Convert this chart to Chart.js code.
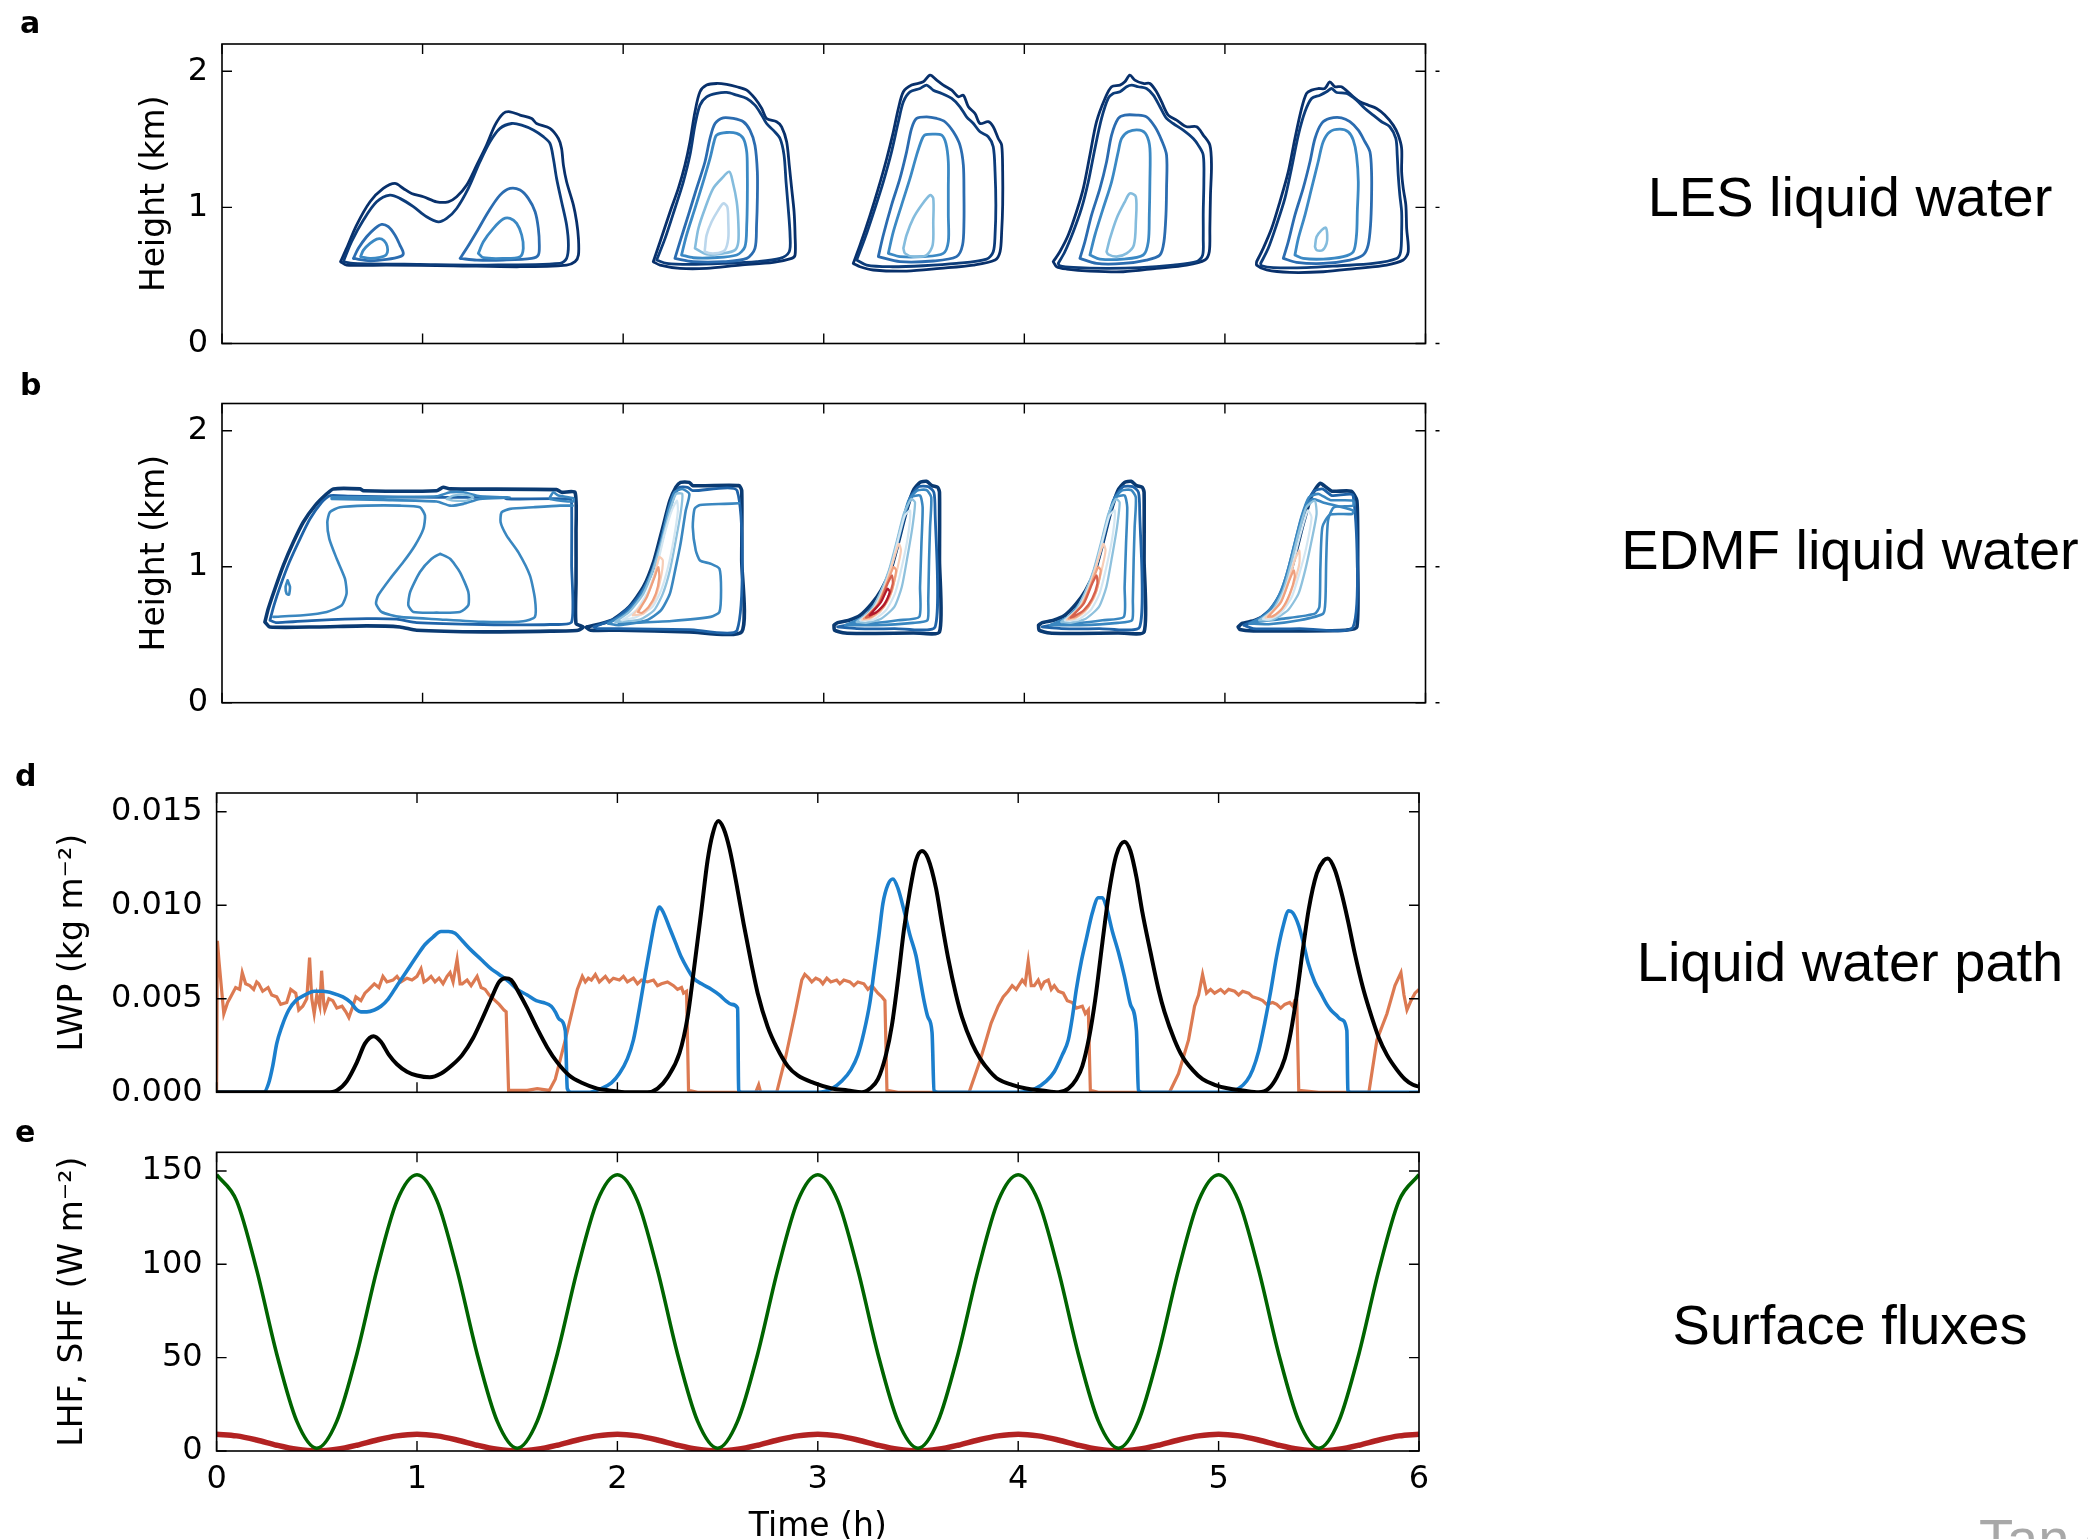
<!DOCTYPE html>
<html><head><meta charset="utf-8">
<script src="https://cdn.jsdelivr.net/npm/chart.js@4.4.1/dist/chart.umd.min.js"></script>
<style>
html,body{margin:0;padding:0;background:#fff;}
body{width:2088px;height:1539px;position:relative;overflow:hidden;}
canvas{position:absolute;left:0;}
.lab{position:absolute;font-family:'DejaVu Sans';font-weight:bold;font-size:30px;line-height:1;color:#000;}
.side{position:absolute;left:1850px;font-family:'Liberation Sans',Arial,sans-serif;font-size:56px;line-height:1;white-space:nowrap;transform:translateX(-50%);color:#000;}
</style></head><body>
<canvas id="cA" width="1450" height="392" style="top:0px"></canvas>
<canvas id="cB" width="1450" height="381" style="top:370px"></canvas>
<canvas id="cD" width="1450" height="400" style="top:740px"></canvas>
<canvas id="cE" width="1450" height="429" style="top:1110px"></canvas>
<div class="lab" style="left:20px;top:8px">a</div>
<div class="lab" style="left:20px;top:370px">b</div>
<div class="lab" style="left:15px;top:761px">d</div>
<div class="lab" style="left:15px;top:1117px">e</div>
<div class="side" style="top:169px">LES liquid water</div>
<div class="side" style="top:522px">EDMF liquid water</div>
<div class="side" style="top:934px">Liquid water path</div>
<div class="side" style="top:1297px">Surface fluxes</div>
<div class="side" style="top:1511px;left:1979px;transform:none;color:#a8a8a8">Tan et al.</div>
<script>
// ---------- ticks ----------
const xTicks = [0,1,2,3,4,5,6];
const xTickLabels = ['0','1','2','3','4','5','6'];
const heightTicks = [0,1,2];
const heightTickLabels = ['0','1','2'];
const lwpTicks = [0,0.005,0.010,0.015];
const lwpTickLabels = ['0.000','0.005','0.010','0.015'];
const fluxTicks = [0,50,100,150];
const fluxTickLabels = ['0','50','100','150'];

// ---------- panel a: LES liquid water contours [time h, height km] ----------
const lesA1 = [[0.591,0.601],[0.621,0.699],[0.671,0.870],[0.738,1.041],[0.804,1.139],[0.862,1.176],[0.904,1.139],[0.945,1.102],[1.004,1.078],[1.070,1.041],[1.128,1.041],[1.170,1.078],[1.220,1.164],[1.270,1.310],[1.319,1.457],[1.361,1.604],[1.402,1.690],[1.436,1.702],[1.486,1.678],[1.544,1.653],[1.568,1.616],[1.635,1.580],[1.677,1.506],[1.693,1.433],[1.702,1.310],[1.718,1.188],[1.752,1.017],[1.768,0.894],[1.777,0.772],[1.777,0.650],[1.760,0.601],[1.718,0.576],[1.486,0.564],[1.153,0.571],[0.821,0.576],[0.621,0.576]];
const lesA2 = [[0.605,0.601],[0.646,0.748],[0.705,0.907],[0.771,1.041],[0.837,1.090],[0.887,1.066],[0.954,1.005],[1.020,0.931],[1.078,0.894],[1.120,0.919],[1.170,0.992],[1.228,1.139],[1.286,1.335],[1.336,1.482],[1.386,1.580],[1.444,1.616],[1.494,1.604],[1.552,1.568],[1.602,1.519],[1.635,1.470],[1.652,1.359],[1.668,1.213],[1.693,1.041],[1.718,0.870],[1.727,0.723],[1.718,0.625],[1.685,0.589],[1.319,0.576],[0.987,0.581],[0.655,0.589]];
const lesA3 = [[0.655,0.625],[0.680,0.699],[0.721,0.784],[0.763,0.846],[0.796,0.875],[0.829,0.858],[0.862,0.797],[0.887,0.723],[0.904,0.662],[0.887,0.638],[0.821,0.618],[0.738,0.608]];
const lesA4 = [[0.691,0.638],[0.705,0.686],[0.738,0.735],[0.771,0.767],[0.796,0.767],[0.818,0.735],[0.826,0.686],[0.818,0.650],[0.788,0.633],[0.738,0.625]];
const lesA5 = [[1.187,0.625],[1.220,0.699],[1.270,0.821],[1.328,0.968],[1.386,1.090],[1.436,1.139],[1.486,1.127],[1.527,1.066],[1.561,0.968],[1.577,0.846],[1.582,0.723],[1.577,0.650],[1.544,0.625],[1.402,0.613],[1.270,0.613]];
const lesA6 = [[1.278,0.662],[1.303,0.748],[1.353,0.846],[1.402,0.914],[1.436,0.919],[1.469,0.882],[1.494,0.797],[1.502,0.699],[1.486,0.638],[1.402,0.625],[1.303,0.630]];
const lesB1 = [[2.150,0.601],[2.184,0.747],[2.234,0.968],[2.275,1.139],[2.308,1.310],[2.333,1.482],[2.358,1.702],[2.383,1.849],[2.416,1.898],[2.466,1.910],[2.516,1.903],[2.566,1.886],[2.616,1.861],[2.657,1.800],[2.691,1.726],[2.715,1.653],[2.765,1.629],[2.790,1.592],[2.815,1.482],[2.828,1.310],[2.840,1.139],[2.852,0.968],[2.857,0.796],[2.857,0.650],[2.840,0.625],[2.749,0.596],[2.582,0.576],[2.416,0.552],[2.283,0.552],[2.184,0.576]];
const lesB2 = [[2.167,0.613],[2.209,0.772],[2.258,0.992],[2.300,1.188],[2.333,1.384],[2.358,1.604],[2.383,1.751],[2.416,1.812],[2.466,1.837],[2.516,1.844],[2.566,1.824],[2.616,1.800],[2.657,1.751],[2.691,1.677],[2.715,1.616],[2.748,1.567],[2.782,1.506],[2.802,1.384],[2.812,1.188],[2.823,0.992],[2.832,0.796],[2.828,0.674],[2.782,0.625],[2.666,0.601],[2.499,0.588],[2.333,0.581],[2.217,0.588]];
const lesB3 = [[2.258,0.625],[2.283,0.747],[2.325,0.943],[2.366,1.139],[2.408,1.335],[2.433,1.506],[2.458,1.616],[2.499,1.658],[2.549,1.653],[2.599,1.629],[2.632,1.567],[2.657,1.457],[2.669,1.261],[2.669,1.066],[2.665,0.870],[2.657,0.699],[2.616,0.625],[2.499,0.601],[2.350,0.601]];
const lesB4 = [[2.291,0.650],[2.316,0.796],[2.358,0.992],[2.399,1.188],[2.433,1.359],[2.453,1.482],[2.466,1.531],[2.516,1.550],[2.566,1.543],[2.599,1.506],[2.616,1.408],[2.619,1.261],[2.619,1.066],[2.616,0.870],[2.607,0.711],[2.566,0.650],[2.449,0.630],[2.350,0.630]];
const lesB5 = [[2.358,0.699],[2.375,0.845],[2.408,0.992],[2.449,1.139],[2.491,1.212],[2.529,1.261],[2.546,1.188],[2.566,1.041],[2.574,0.894],[2.574,0.747],[2.557,0.686],[2.499,0.662],[2.416,0.655]];
const lesB6 = [[2.408,0.699],[2.416,0.796],[2.441,0.894],[2.474,0.980],[2.499,1.029],[2.519,1.004],[2.524,0.894],[2.524,0.772],[2.507,0.686],[2.458,0.662],[2.408,0.674]];
const lesC1 = [[3.147,0.588],[3.181,0.723],[3.231,0.943],[3.272,1.139],[3.314,1.359],[3.347,1.555],[3.372,1.726],[3.397,1.849],[3.438,1.898],[3.496,1.922],[3.530,1.971],[3.563,1.935],[3.596,1.898],[3.638,1.861],[3.671,1.812],[3.696,1.824],[3.721,1.739],[3.754,1.690],[3.779,1.616],[3.820,1.629],[3.845,1.592],[3.870,1.506],[3.887,1.457],[3.892,1.262],[3.892,1.017],[3.887,0.821],[3.879,0.674],[3.854,0.613],[3.746,0.576],[3.580,0.552],[3.413,0.532],[3.247,0.540],[3.181,0.564]];
const lesC2 = [[3.164,0.613],[3.205,0.772],[3.255,0.992],[3.297,1.188],[3.338,1.408],[3.372,1.629],[3.397,1.776],[3.430,1.849],[3.480,1.873],[3.513,1.898],[3.546,1.861],[3.588,1.837],[3.638,1.800],[3.679,1.739],[3.712,1.665],[3.746,1.616],[3.779,1.555],[3.820,1.519],[3.845,1.445],[3.854,1.262],[3.858,1.017],[3.854,0.797],[3.845,0.674],[3.812,0.620],[3.662,0.588],[3.496,0.571],[3.330,0.564],[3.214,0.576]];
const lesC3 = [[3.272,0.638],[3.297,0.797],[3.338,1.017],[3.380,1.213],[3.413,1.408],[3.438,1.580],[3.463,1.653],[3.513,1.665],[3.563,1.653],[3.604,1.629],[3.646,1.555],[3.679,1.457],[3.696,1.310],[3.699,1.090],[3.699,0.894],[3.692,0.723],[3.662,0.638],[3.546,0.606],[3.380,0.601]];
const lesC4 = [[3.322,0.662],[3.347,0.821],[3.388,1.017],[3.430,1.213],[3.463,1.384],[3.488,1.494],[3.504,1.531],[3.546,1.538],[3.588,1.531],[3.609,1.470],[3.621,1.335],[3.621,1.139],[3.621,0.943],[3.621,0.748],[3.596,0.662],[3.496,0.638],[3.380,0.638]];
const lesC5 = [[3.397,0.699],[3.413,0.797],[3.446,0.919],[3.488,1.017],[3.530,1.090],[3.546,1.066],[3.546,0.894],[3.543,0.723],[3.513,0.650],[3.446,0.638],[3.405,0.662]];
const lesD1 = [[4.144,0.601],[4.177,0.674],[4.219,0.797],[4.260,0.968],[4.294,1.139],[4.327,1.384],[4.360,1.629],[4.402,1.800],[4.435,1.886],[4.477,1.898],[4.501,1.922],[4.526,1.971],[4.551,1.935],[4.593,1.910],[4.626,1.910],[4.659,1.849],[4.684,1.776],[4.717,1.678],[4.759,1.641],[4.809,1.592],[4.859,1.592],[4.892,1.531],[4.925,1.457],[4.933,1.310],[4.928,1.090],[4.925,0.846],[4.922,0.674],[4.900,0.613],[4.809,0.576],[4.659,0.552],[4.493,0.527],[4.327,0.532],[4.211,0.547],[4.161,0.564]];
const lesD2 = [[4.169,0.588],[4.202,0.674],[4.244,0.821],[4.285,0.992],[4.319,1.188],[4.352,1.433],[4.385,1.653],[4.418,1.800],[4.443,1.837],[4.477,1.849],[4.510,1.886],[4.535,1.898],[4.568,1.886],[4.609,1.873],[4.643,1.824],[4.676,1.739],[4.709,1.653],[4.742,1.616],[4.792,1.567],[4.842,1.506],[4.867,1.457],[4.892,1.384],[4.895,1.188],[4.892,0.968],[4.892,0.772],[4.889,0.650],[4.859,0.601],[4.742,0.576],[4.576,0.557],[4.410,0.552],[4.244,0.559],[4.177,0.571]];
const lesD3 = [[4.277,0.625],[4.302,0.748],[4.335,0.943],[4.377,1.139],[4.410,1.335],[4.435,1.531],[4.468,1.653],[4.501,1.678],[4.560,1.678],[4.609,1.665],[4.651,1.592],[4.684,1.494],[4.709,1.384],[4.709,1.139],[4.706,0.943],[4.696,0.748],[4.676,0.650],[4.609,0.613],[4.493,0.588],[4.360,0.588]];
const lesD4 = [[4.327,0.650],[4.352,0.797],[4.393,0.992],[4.435,1.188],[4.468,1.408],[4.485,1.506],[4.518,1.555],[4.576,1.567],[4.609,1.531],[4.626,1.433],[4.626,1.188],[4.623,0.943],[4.618,0.748],[4.593,0.650],[4.493,0.620],[4.377,0.620]];
const lesD5 = [[4.410,0.674],[4.427,0.772],[4.460,0.919],[4.501,1.041],[4.526,1.102],[4.556,1.078],[4.556,0.894],[4.546,0.723],[4.510,0.662],[4.460,0.638],[4.418,0.655]];
const lesE1 = [[5.158,0.601],[5.191,0.699],[5.233,0.846],[5.274,1.041],[5.316,1.262],[5.349,1.506],[5.382,1.726],[5.407,1.837],[5.432,1.861],[5.465,1.873],[5.498,1.873],[5.523,1.922],[5.548,1.886],[5.581,1.886],[5.631,1.824],[5.673,1.776],[5.714,1.751],[5.756,1.726],[5.797,1.678],[5.839,1.604],[5.864,1.531],[5.881,1.433],[5.881,1.262],[5.889,1.139],[5.902,1.017],[5.906,0.846],[5.914,0.674],[5.889,0.613],[5.806,0.576],[5.656,0.552],[5.490,0.527],[5.324,0.522],[5.208,0.540],[5.158,0.576]];
const lesE2 = [[5.178,0.588],[5.216,0.699],[5.257,0.870],[5.299,1.066],[5.332,1.286],[5.366,1.531],[5.399,1.702],[5.432,1.800],[5.474,1.824],[5.507,1.849],[5.532,1.873],[5.557,1.844],[5.607,1.837],[5.656,1.788],[5.698,1.726],[5.739,1.678],[5.781,1.629],[5.822,1.592],[5.852,1.506],[5.859,1.384],[5.864,1.237],[5.872,1.090],[5.881,0.968],[5.881,0.821],[5.876,0.674],[5.856,0.625],[5.739,0.588],[5.573,0.571],[5.407,0.557],[5.241,0.557],[5.183,0.571]];
const lesE3 = [[5.291,0.625],[5.316,0.748],[5.349,0.943],[5.390,1.139],[5.424,1.335],[5.449,1.506],[5.482,1.616],[5.523,1.653],[5.581,1.658],[5.623,1.629],[5.665,1.567],[5.698,1.482],[5.723,1.408],[5.731,1.262],[5.731,1.066],[5.726,0.870],[5.714,0.723],[5.689,0.650],[5.623,0.613],[5.490,0.588],[5.357,0.596]];
const lesE4 = [[5.349,0.650],[5.366,0.772],[5.399,0.943],[5.432,1.139],[5.465,1.335],[5.490,1.482],[5.523,1.555],[5.573,1.575],[5.615,1.555],[5.640,1.494],[5.656,1.384],[5.665,1.188],[5.660,0.968],[5.656,0.797],[5.640,0.674],[5.590,0.638],[5.490,0.620],[5.390,0.625]];
const lesE5 = [[5.449,0.711],[5.457,0.784],[5.482,0.833],[5.503,0.850],[5.510,0.797],[5.507,0.735],[5.487,0.686],[5.457,0.686]];

// ---------- panel b: EDMF liquid water contours [time h, height km] ----------
const edF1 = [[0.214,0.594],[0.231,0.692],[0.264,0.838],[0.306,1.010],[0.356,1.181],[0.405,1.327],[0.464,1.449],[0.522,1.535],[0.555,1.572],[0.688,1.572],[0.705,1.559],[1.070,1.559],[1.103,1.584],[1.137,1.572],[1.668,1.567],[1.693,1.547],[1.760,1.547],[1.765,1.254],[1.765,0.887],[1.765,0.582],[1.801,0.557],[1.776,0.533],[1.635,0.526],[1.303,0.521],[0.970,0.533],[0.887,0.557],[0.721,0.565],[0.472,0.557],[0.239,0.557]];
const edF2 = [[0.239,0.606],[0.259,0.716],[0.292,0.863],[0.336,1.034],[0.389,1.205],[0.439,1.352],[0.497,1.474],[0.539,1.523],[0.638,1.518],[1.070,1.510],[1.403,1.510],[1.419,1.498],[1.735,1.498],[1.743,1.462],[1.743,1.010],[1.743,0.594],[1.635,0.575],[1.303,0.575],[0.970,0.589],[0.871,0.614],[0.721,0.618],[0.472,0.606],[0.272,0.589]];
const edF3 = [[0.547,1.498],[0.804,1.491],[1.070,1.479],[1.137,1.449],[1.203,1.462],[1.286,1.498],[1.436,1.508],[1.286,1.518],[1.203,1.547],[1.137,1.547],[1.070,1.518],[0.804,1.510],[0.547,1.510]];
const edF4 = [[1.120,1.498],[1.153,1.523],[1.220,1.528],[1.253,1.510],[1.220,1.486],[1.153,1.486]];
const edF5 = [[1.635,1.510],[1.652,1.547],[1.677,1.523],[1.752,1.503],[1.752,1.479],[1.635,1.498]];
const edF6 = [[0.256,0.631],[0.405,0.643],[0.522,0.667],[0.597,0.716],[0.621,0.802],[0.613,0.912],[0.572,1.058],[0.535,1.205],[0.525,1.327],[0.538,1.401],[0.588,1.437],[0.721,1.449],[0.887,1.449],[0.987,1.437],[1.012,1.376],[1.004,1.278],[0.962,1.156],[0.904,1.034],[0.838,0.912],[0.779,0.790],[0.768,0.728],[0.796,0.667],[0.887,0.631],[1.070,0.614],[1.303,0.594],[1.502,0.599],[1.560,0.631],[1.560,0.765],[1.535,0.936],[1.477,1.107],[1.419,1.229],[1.389,1.327],[1.394,1.401],[1.436,1.425],[1.552,1.437],[1.685,1.449],[1.748,1.449]];
const edF7 = [[1.087,1.095],[1.137,1.058],[1.186,0.961],[1.228,0.814],[1.228,0.716],[1.186,0.667],[1.070,0.662],[0.954,0.667],[0.929,0.716],[0.938,0.814],[0.987,0.961],[1.045,1.058]];
const edF8 = [[0.327,0.900],[0.339,0.851],[0.334,0.795],[0.322,0.801],[0.317,0.851]];
const edG1 = [[1.819,0.557],[1.942,0.606],[2.030,0.704],[2.101,0.851],[2.154,1.046],[2.198,1.291],[2.233,1.486],[2.263,1.584],[2.286,1.620],[2.330,1.620],[2.347,1.596],[2.577,1.596],[2.591,1.559],[2.591,1.046],[2.591,0.521],[2.330,0.521],[1.978,0.533],[1.837,0.533],[1.816,0.553]];
const edG2 = [[1.854,0.557],[1.960,0.618],[2.048,0.728],[2.118,0.875],[2.171,1.071],[2.215,1.315],[2.251,1.510],[2.280,1.584],[2.321,1.584],[2.347,1.559],[2.568,1.559],[2.568,0.533],[2.330,0.538],[1.978,0.545],[1.872,0.545]];
const edG3 = [[1.978,0.582],[2.242,0.601],[2.436,0.631],[2.480,0.667],[2.488,0.826],[2.480,0.985],[2.436,1.022],[2.383,1.046],[2.362,1.119],[2.347,1.291],[2.356,1.425],[2.383,1.454],[2.506,1.462],[2.577,1.466]];
const edG4 = [[1.925,0.582],[2.013,0.655],[2.083,0.777],[2.145,0.973],[2.189,1.193],[2.224,1.413],[2.256,1.547],[2.295,1.571],[2.330,1.535],[2.312,1.413],[2.286,1.168],[2.259,0.973],[2.233,0.802],[2.189,0.680],[2.118,0.606],[1.978,0.570]];
const edG5 = [[1.960,0.594],[2.030,0.667],[2.101,0.802],[2.154,0.997],[2.198,1.217],[2.233,1.413],[2.263,1.535],[2.295,1.535],[2.286,1.388],[2.259,1.168],[2.233,0.973],[2.198,0.802],[2.154,0.680],[2.083,0.611]];
const edG6 = [[1.995,0.606],[2.066,0.680],[2.127,0.826],[2.171,1.022],[2.207,1.242],[2.242,1.413],[2.268,1.486],[2.273,1.413],[2.251,1.193],[2.224,0.997],[2.189,0.826],[2.145,0.704],[2.066,0.631]];
const edG7 = [[2.048,0.643],[2.110,0.753],[2.154,0.924],[2.180,1.071],[2.198,1.046],[2.185,0.900],[2.154,0.753],[2.101,0.655]];
const edG8 = [[2.074,0.667],[2.118,0.777],[2.154,0.912],[2.175,0.997],[2.180,0.924],[2.163,0.802],[2.127,0.704],[2.092,0.660]];
const edH1 = [[3.051,0.570],[3.069,0.589],[3.126,0.606],[3.182,0.643],[3.239,0.728],[3.286,0.826],[3.333,0.973],[3.370,1.168],[3.408,1.388],[3.446,1.559],[3.480,1.620],[3.512,1.628],[3.540,1.596],[3.568,1.584],[3.577,1.547],[3.577,1.046],[3.577,0.521],[3.446,0.513],[3.258,0.509],[3.107,0.513],[3.054,0.533]];
const edH2 = [[3.069,0.557],[3.145,0.582],[3.211,0.643],[3.267,0.753],[3.314,0.900],[3.355,1.095],[3.393,1.315],[3.431,1.510],[3.474,1.589],[3.521,1.589],[3.549,1.547],[3.555,1.413],[3.555,0.557],[3.352,0.545],[3.164,0.545]];
const edH3 = [[3.107,0.570],[3.201,0.631],[3.258,0.728],[3.305,0.875],[3.348,1.071],[3.385,1.291],[3.423,1.486],[3.465,1.559],[3.512,1.564],[3.536,1.510],[3.530,1.291],[3.525,1.046],[3.521,0.753],[3.517,0.606],[3.446,0.587],[3.258,0.570]];
const edH4 = [[3.145,0.582],[3.220,0.655],[3.276,0.777],[3.323,0.948],[3.363,1.156],[3.401,1.376],[3.436,1.510],[3.480,1.523],[3.493,1.437],[3.487,1.168],[3.480,0.851],[3.476,0.631],[3.370,0.606],[3.258,0.587]];
const edH5 = [[3.164,0.594],[3.229,0.667],[3.280,0.802],[3.325,0.973],[3.363,1.181],[3.399,1.388],[3.436,1.498],[3.455,1.474],[3.442,1.291],[3.417,1.071],[3.389,0.851],[3.352,0.704],[3.286,0.618],[3.211,0.587]];
const edH6 = [[3.182,0.606],[3.248,0.692],[3.295,0.826],[3.336,0.997],[3.370,1.193],[3.404,1.376],[3.431,1.413],[3.419,1.217],[3.389,0.997],[3.355,0.802],[3.310,0.680],[3.248,0.611]];
const edH7 = [[3.192,0.611],[3.258,0.704],[3.305,0.851],[3.342,1.022],[3.374,1.168],[3.385,1.119],[3.361,0.948],[3.329,0.777],[3.280,0.667],[3.229,0.618]];
const edH8 = [[3.201,0.618],[3.267,0.716],[3.314,0.875],[3.348,0.997],[3.361,0.973],[3.340,0.826],[3.299,0.704],[3.239,0.631]];
const edH9 = [[3.211,0.626],[3.276,0.728],[3.318,0.875],[3.340,0.936],[3.344,0.875],[3.318,0.765],[3.276,0.680],[3.229,0.636]];
const edH10 = [[3.229,0.643],[3.286,0.741],[3.318,0.838],[3.329,0.814],[3.305,0.728],[3.258,0.660]];
const edI1 = [[4.071,0.570],[4.089,0.589],[4.146,0.606],[4.202,0.643],[4.259,0.728],[4.306,0.826],[4.353,0.973],[4.390,1.168],[4.428,1.388],[4.466,1.559],[4.500,1.620],[4.532,1.628],[4.560,1.596],[4.588,1.584],[4.597,1.547],[4.597,1.046],[4.597,0.521],[4.466,0.513],[4.278,0.509],[4.127,0.513],[4.074,0.533]];
const edI2 = [[4.089,0.557],[4.165,0.582],[4.231,0.643],[4.287,0.753],[4.334,0.900],[4.375,1.095],[4.413,1.315],[4.451,1.510],[4.494,1.589],[4.541,1.589],[4.569,1.547],[4.575,1.413],[4.575,0.557],[4.372,0.545],[4.184,0.545]];
const edI3 = [[4.127,0.570],[4.221,0.631],[4.278,0.728],[4.325,0.875],[4.368,1.071],[4.405,1.291],[4.443,1.486],[4.485,1.559],[4.532,1.564],[4.556,1.510],[4.550,1.291],[4.545,1.046],[4.541,0.753],[4.537,0.606],[4.466,0.587],[4.278,0.570]];
const edI4 = [[4.165,0.582],[4.240,0.655],[4.296,0.777],[4.343,0.948],[4.383,1.156],[4.421,1.376],[4.456,1.510],[4.500,1.523],[4.513,1.437],[4.507,1.168],[4.500,0.851],[4.496,0.631],[4.390,0.606],[4.278,0.587]];
const edI5 = [[4.184,0.594],[4.249,0.667],[4.300,0.802],[4.345,0.973],[4.383,1.181],[4.419,1.388],[4.456,1.498],[4.475,1.474],[4.462,1.291],[4.437,1.071],[4.409,0.851],[4.372,0.704],[4.306,0.618],[4.231,0.587]];
const edI6 = [[4.202,0.606],[4.268,0.692],[4.315,0.826],[4.356,0.997],[4.390,1.193],[4.424,1.376],[4.451,1.413],[4.439,1.217],[4.409,0.997],[4.375,0.802],[4.330,0.680],[4.268,0.611]];
const edI7 = [[4.212,0.611],[4.278,0.704],[4.325,0.851],[4.362,1.022],[4.394,1.168],[4.405,1.119],[4.381,0.948],[4.349,0.777],[4.300,0.667],[4.249,0.618]];
const edI8 = [[4.221,0.618],[4.287,0.716],[4.334,0.875],[4.368,0.997],[4.381,0.973],[4.360,0.826],[4.319,0.704],[4.259,0.631]];
const edI9 = [[4.231,0.626],[4.296,0.728],[4.338,0.875],[4.360,0.936],[4.364,0.875],[4.338,0.765],[4.296,0.680],[4.249,0.636]];
const edJ1 = [[5.066,0.557],[5.085,0.582],[5.152,0.606],[5.209,0.655],[5.266,0.753],[5.314,0.900],[5.352,1.095],[5.390,1.315],[5.429,1.510],[5.457,1.584],[5.476,1.613],[5.505,1.584],[5.534,1.555],[5.629,1.555],[5.658,1.486],[5.662,1.046],[5.658,0.557],[5.600,0.533],[5.371,0.528],[5.142,0.528],[5.075,0.538]];
const edJ2 = [[5.094,0.570],[5.171,0.618],[5.228,0.692],[5.285,0.826],[5.329,1.022],[5.367,1.242],[5.406,1.462],[5.444,1.555],[5.486,1.572],[5.534,1.523],[5.639,1.523],[5.639,0.557],[5.371,0.545],[5.142,0.545]];
const edJ3 = [[5.123,0.582],[5.199,0.643],[5.257,0.753],[5.304,0.924],[5.343,1.144],[5.381,1.364],[5.419,1.510],[5.467,1.535],[5.524,1.491],[5.639,1.486],[5.639,1.449],[5.543,1.437],[5.514,1.339],[5.505,1.046],[5.501,0.753],[5.490,0.655],[5.371,0.606],[5.218,0.577]];
const edJ4 = [[5.152,0.594],[5.222,0.667],[5.276,0.802],[5.318,0.997],[5.356,1.217],[5.394,1.413],[5.438,1.498],[5.486,1.474],[5.639,1.413],[5.635,1.388],[5.524,1.383],[5.486,1.291],[5.476,0.997],[5.471,0.704],[5.448,0.655],[5.295,0.618]];
const edJ5 = [[5.171,0.606],[5.238,0.680],[5.291,0.826],[5.329,1.022],[5.366,1.242],[5.406,1.437],[5.448,1.486],[5.457,1.388],[5.429,1.168],[5.400,0.973],[5.367,0.802],[5.314,0.680],[5.238,0.611]];
const edJ6 = [[5.190,0.616],[5.257,0.704],[5.304,0.851],[5.343,1.046],[5.377,1.242],[5.413,1.413],[5.432,1.364],[5.406,1.144],[5.371,0.948],[5.333,0.777],[5.276,0.655],[5.218,0.611]];
const edJ7 = [[5.203,0.626],[5.272,0.724],[5.314,0.875],[5.348,1.046],[5.371,1.119],[5.371,1.022],[5.343,0.875],[5.304,0.728],[5.247,0.636]];
const edJ8 = [[5.215,0.631],[5.280,0.741],[5.318,0.887],[5.343,0.973],[5.348,0.924],[5.324,0.802],[5.285,0.692],[5.238,0.636]];

// ---------- panel d: liquid water path [time h, kg m-2] ----------
const lwpBlack = [[0,0],[0.3,0],[0.55,0],[0.6,0.0001],[0.65,0.0006],[0.70,0.0016],[0.74,0.0026],[0.783,0.0030],[0.82,0.0027],[0.86,0.0020],[0.90,0.0015],[0.95,0.0011],[1.00,0.0009],[1.064,0.0008],[1.12,0.0010],[1.17,0.0014],[1.226,0.0020],[1.28,0.0029],[1.32,0.0038],[1.37,0.0050],[1.41,0.0059],[1.44,0.0061],[1.47,0.0060],[1.51,0.0053],[1.55,0.0045],[1.60,0.0034],[1.65,0.0024],[1.70,0.0016],[1.76,0.0009],[1.825,0.0005],[1.90,0.0002],[1.96,0.0001],[2.05,0],[2.15,0],[2.20,0.0002],[2.25,0.0008],[2.31,0.0021],[2.35,0.0040],[2.38,0.0064],[2.42,0.0098],[2.45,0.0124],[2.475,0.0138],[2.503,0.0145],[2.53,0.0141],[2.56,0.0130],[2.60,0.0108],[2.63,0.0090],[2.67,0.0068],[2.70,0.0053],[2.75,0.0035],[2.795,0.0024],[2.85,0.0014],[2.90,0.0009],[2.98,0.0005],[3.07,0.0002],[3.15,0.0001],[3.22,0],[3.26,0.0002],[3.30,0.0007],[3.34,0.0020],[3.37,0.0036],[3.40,0.0060],[3.43,0.0087],[3.46,0.0108],[3.49,0.0124],[3.52,0.0129],[3.55,0.0125],[3.59,0.0109],[3.62,0.0090],[3.65,0.0072],[3.69,0.0052],[3.72,0.0040],[3.77,0.0026],[3.81,0.0018],[3.86,0.0011],[3.90,0.0007],[3.97,0.0004],[4.04,0.0002],[4.12,0.0001],[4.20,0],[4.25,0.0002],[4.29,0.0007],[4.32,0.0014],[4.355,0.0030],[4.385,0.0050],[4.42,0.0080],[4.455,0.0108],[4.49,0.0127],[4.53,0.0134],[4.56,0.0129],[4.59,0.0115],[4.62,0.0096],[4.66,0.0075],[4.70,0.0055],[4.73,0.0043],[4.78,0.0028],[4.82,0.0019],[4.87,0.0012],[4.92,0.0007],[4.98,0.0004],[5.05,0.0002],[5.12,0.0001],[5.20,0],[5.25,0.0002],[5.29,0.0008],[5.33,0.0018],[5.36,0.0032],[5.39,0.0052],[5.42,0.0076],[5.45,0.0098],[5.49,0.0117],[5.525,0.0124],[5.545,0.0125],[5.58,0.0119],[5.61,0.0108],[5.645,0.0092],[5.68,0.0074],[5.72,0.0056],[5.75,0.0045],[5.80,0.0029],[5.84,0.0020],[5.89,0.0012],[5.93,0.0007],[5.97,0.0004],[6.0,0.0003]];
const lwpBlue = [[0,0],[0.235,0],[0.26,0.0005],[0.28,0.0014],[0.30,0.0026],[0.325,0.0035],[0.36,0.0044],[0.395,0.0049],[0.44,0.0052],[0.487,0.0054],[0.53,0.0054],[0.58,0.0053],[0.63,0.0051],[0.67,0.0048],[0.70,0.0044],[0.72,0.0043],[0.75,0.0043],[0.787,0.0044],[0.82,0.0046],[0.857,0.0050],[0.90,0.0057],[0.95,0.0065],[1.00,0.0073],[1.04,0.0079],[1.08,0.0083],[1.12,0.0086],[1.157,0.0086],[1.19,0.0085],[1.226,0.0081],[1.27,0.0076],[1.32,0.0071],[1.37,0.0066],[1.41,0.0063],[1.46,0.0059],[1.50,0.0055],[1.55,0.0052],[1.595,0.0049],[1.63,0.0048],[1.67,0.0046],[1.69,0.0043],[1.71,0.0039],[1.74,0.0033],[1.75,0.0002],[1.77,0],[1.85,0],[1.92,0.0002],[1.97,0.0005],[2.01,0.0010],[2.05,0.0018],[2.08,0.0028],[2.11,0.0045],[2.14,0.0064],[2.17,0.0082],[2.19,0.0093],[2.21,0.0099],[2.23,0.0096],[2.26,0.0088],[2.29,0.0080],[2.32,0.0072],[2.35,0.0066],[2.38,0.0061],[2.42,0.0058],[2.47,0.0055],[2.51,0.0052],[2.54,0.0049],[2.57,0.0047],[2.60,0.0045],[2.605,0.0001],[2.62,0],[3.0,0],[3.07,0.0002],[3.12,0.0006],[3.165,0.0012],[3.20,0.0020],[3.23,0.0032],[3.26,0.0048],[3.28,0.0064],[3.305,0.0084],[3.325,0.0101],[3.35,0.0111],[3.375,0.0114],[3.40,0.0109],[3.426,0.0099],[3.46,0.0084],[3.49,0.0073],[3.51,0.0061],[3.53,0.0049],[3.55,0.0040],[3.57,0.0032],[3.58,0.0001],[3.60,0],[4.0,0],[4.085,0.0002],[4.14,0.0006],[4.18,0.0011],[4.22,0.0020],[4.25,0.0028],[4.27,0.0040],[4.29,0.0055],[4.315,0.0070],[4.34,0.0082],[4.37,0.0096],[4.40,0.0104],[4.42,0.0104],[4.44,0.0099],[4.47,0.0086],[4.50,0.0075],[4.53,0.0062],[4.56,0.0047],[4.59,0.0033],[4.60,0.0001],[4.62,0],[5.05,0],[5.10,0.0002],[5.14,0.0006],[5.17,0.0012],[5.20,0.0022],[5.23,0.0037],[5.26,0.0054],[5.29,0.0073],[5.32,0.0088],[5.35,0.0097],[5.37,0.0096],[5.40,0.0089],[5.425,0.0079],[5.447,0.0069],[5.48,0.0059],[5.51,0.0053],[5.54,0.0047],[5.56,0.0044],[5.59,0.0041],[5.61,0.0039],[5.64,0.0033],[5.645,0.0001],[5.66,0],[6.0,0]];
const lwpOrange = [[0,0],[0.004,0.0081],[0.012,0.0070],[0.036,0.0042],[0.055,0.0048],[0.070,0.0051],[0.095,0.0056],[0.115,0.0055],[0.128,0.0064],[0.145,0.0058],[0.165,0.0057],[0.185,0.0055],[0.20,0.0059],[0.21,0.0058],[0.23,0.0054],[0.257,0.0056],[0.275,0.0052],[0.30,0.0051],[0.32,0.0047],[0.35,0.0048],[0.37,0.0055],[0.395,0.0053],[0.41,0.0044],[0.43,0.0046],[0.45,0.0050],[0.464,0.0072],[0.475,0.0050],[0.487,0.0042],[0.50,0.0052],[0.515,0.0046],[0.524,0.0065],[0.535,0.0047],[0.54,0.0044],[0.56,0.0050],[0.58,0.0049],[0.60,0.0045],[0.626,0.0046],[0.645,0.0043],[0.66,0.0040],[0.68,0.0046],[0.695,0.0051],[0.72,0.0049],[0.74,0.0053],[0.76,0.0055],[0.787,0.0058],[0.81,0.0056],[0.83,0.0062],[0.85,0.0059],[0.88,0.0060],[0.90,0.0062],[0.92,0.0059],[0.95,0.0061],[0.975,0.0060],[1.00,0.0062],[1.02,0.0066],[1.035,0.0059],[1.05,0.0060],[1.07,0.0062],[1.09,0.0059],[1.11,0.0061],[1.13,0.0058],[1.15,0.0062],[1.165,0.0064],[1.18,0.0059],[1.20,0.0071],[1.215,0.0058],[1.226,0.0058],[1.25,0.0060],[1.27,0.0057],[1.30,0.0062],[1.32,0.0056],[1.34,0.0055],[1.36,0.0052],[1.39,0.0049],[1.41,0.0047],[1.434,0.0044],[1.445,0.0043],[1.457,0.0001],[1.50,0.0001],[1.55,0.0001],[1.60,0.0002],[1.66,0.0001],[1.69,0.0007],[1.74,0.0028],[1.78,0.0046],[1.80,0.0055],[1.825,0.0062],[1.84,0.0059],[1.855,0.0061],[1.87,0.0060],[1.89,0.0063],[1.91,0.0059],[1.94,0.0062],[1.96,0.0059],[1.98,0.0061],[2.01,0.0060],[2.03,0.0062],[2.05,0.0059],[2.08,0.0061],[2.10,0.0058],[2.12,0.0060],[2.15,0.0059],[2.18,0.0060],[2.20,0.0057],[2.22,0.0058],[2.25,0.0059],[2.28,0.0057],[2.30,0.0055],[2.32,0.0056],[2.33,0.0053],[2.345,0.0054],[2.355,0.0001],[2.40,0],[2.69,0],[2.705,0.0004],[2.715,0],[2.795,0],[2.84,0.0019],[2.886,0.0042],[2.92,0.0060],[2.935,0.0063],[2.955,0.0061],[2.97,0.0059],[2.99,0.0061],[3.01,0.0060],[3.025,0.0058],[3.045,0.0061],[3.065,0.0059],[3.094,0.0060],[3.11,0.0058],[3.13,0.0060],[3.16,0.0059],[3.18,0.0057],[3.20,0.0059],[3.23,0.0058],[3.25,0.0055],[3.27,0.0057],[3.30,0.0053],[3.32,0.0051],[3.335,0.0049],[3.345,0.0001],[3.40,0],[3.755,0],[3.81,0.0017],[3.865,0.0037],[3.90,0.0046],[3.925,0.0051],[3.95,0.0054],[3.97,0.0057],[3.99,0.0055],[4.02,0.0060],[4.035,0.0058],[4.05,0.0070],[4.065,0.0057],[4.08,0.0057],[4.10,0.0060],[4.115,0.0056],[4.13,0.0059],[4.15,0.0060],[4.165,0.0055],[4.18,0.0057],[4.20,0.0054],[4.225,0.0053],[4.245,0.0049],[4.27,0.0048],[4.29,0.0045],[4.32,0.0046],[4.335,0.0042],[4.35,0.0044],[4.36,0.0001],[4.40,0],[4.755,0],[4.80,0.0010],[4.85,0.0028],[4.88,0.0046],[4.90,0.0052],[4.92,0.0063],[4.94,0.0053],[4.96,0.0055],[4.98,0.0053],[5.01,0.0055],[5.03,0.0053],[5.05,0.0055],[5.08,0.0054],[5.10,0.0052],[5.12,0.0054],[5.15,0.0053],[5.17,0.0051],[5.20,0.0050],[5.22,0.0049],[5.24,0.0047],[5.27,0.0048],[5.29,0.0047],[5.31,0.0045],[5.33,0.0047],[5.355,0.0048],[5.37,0.0046],[5.38,0.0049],[5.39,0.0049],[5.40,0.0001],[5.50,0],[5.75,0],[5.79,0.0028],[5.84,0.0042],[5.88,0.0057],[5.91,0.0064],[5.925,0.0052],[5.94,0.0044],[5.96,0.0049],[5.98,0.0053],[6.00,0.0055]];

// ---------- panel e: surface fluxes ----------
const fluxTime = [0,0.1,0.2,0.3,0.4,0.5,0.6,0.7,0.8,0.9,1,1.1,1.2,1.3,1.4,1.5,1.6,1.7,1.8,1.9,2,2.1,2.2,2.3,2.4,2.5,2.6,2.7,2.8,2.9,3,3.1,3.2,3.3,3.4,3.5,3.6,3.7,3.8,3.9,4,4.1,4.2,4.3,4.4,4.5,4.6,4.7,4.8,4.9,5,5.1,5.2,5.3,5.4,5.5,5.6,5.7,5.8,5.9,6];
const lhf = [148,134,97,52,16,1.5,16,52,97,134, 148,134,97,52,16,1.5,16,52,97,134, 148,134,97,52,16,1.5,16,52,97,134, 148,134,97,52,16,1.5,16,52,97,134, 148,134,97,52,16,1.5,16,52,97,134, 148,134,97,52,16,1.5,16,52,97,134, 148];
const shf = [9,8.1,5.9,3.1,0.9,0,0.9,3.1,5.9,8.1, 9,8.1,5.9,3.1,0.9,0,0.9,3.1,5.9,8.1, 9,8.1,5.9,3.1,0.9,0,0.9,3.1,5.9,8.1, 9,8.1,5.9,3.1,0.9,0,0.9,3.1,5.9,8.1, 9,8.1,5.9,3.1,0.9,0,0.9,3.1,5.9,8.1, 9,8.1,5.9,3.1,0.9,0,0.9,3.1,5.9,8.1, 9];

// contour lists: [points, level, open]
const lesList = [[lesA1,0],[lesA2,1],[lesA3,2],[lesA4,3],[lesA5,2],[lesA6,3],
  [lesB1,0],[lesB2,1],[lesB3,2],[lesB4,3],[lesB5,4],[lesB6,5],
  [lesC1,0],[lesC2,1],[lesC3,2],[lesC4,3],[lesC5,4],
  [lesD1,0],[lesD2,1],[lesD3,2],[lesD4,3],[lesD5,4],
  [lesE1,0],[lesE2,1],[lesE3,2],[lesE4,3],[lesE5,4]];
const edList = [[edF1,0],[edF2,1],[edF6,2,true],[edF3,2],[edF5,2],[edF4,3],[edF7,2],[edF8,2],
  [edG1,0],[edG2,1],[edG3,2,true],[edG4,2],[edG5,3],[edG6,4],[edG7,5],[edG8,6],
  [edH1,0],[edH2,1],[edH3,2],[edH4,2],[edH5,3],[edH6,4],[edH7,5],[edH8,6],[edH9,7],[edH10,8],
  [edI1,0],[edI2,1],[edI3,2],[edI4,2],[edI5,3],[edI6,4],[edI7,5],[edI8,6],[edI9,7],
  [edJ1,0],[edJ2,1],[edJ3,2],[edJ4,2],[edJ5,3],[edJ6,4],[edJ7,5],[edJ8,6]];

// ---------- styles ----------
const lesColors = ['#08306b','#0c3c7a','#2b6cb0','#3b89c4','#84bcdd','#bcd7ec'];
const lesWidths = [2.8,2.8,2.8,2.8,2.6,2.6];
const edColors = ['#0a3a72','#1f63a8','#3a87c0','#8ec1dd','#d3e6f1','#f7cdb6','#efa07e','#d6604d','#b2182b'];
const edWidths = [3.6,2.8,2.6,2.3,2.2,2.2,2.2,2.2,2.2];

Chart.defaults.font.family = "'DejaVu Sans'";
Chart.defaults.color = '#000';

const frameTicks = {
  id: 'frameTicks',
  afterDraw(chart, args, opts) {
    const {ctx, chartArea: a} = chart;
    const x = chart.scales.x, y = chart.scales.y;
    ctx.save();
    ctx.strokeStyle = '#000';
    ctx.lineWidth = 1.6;
    ctx.strokeRect(a.left, a.top, a.right - a.left, a.bottom - a.top);
    ctx.lineWidth = 1.4;
    const L = 10;
    ctx.beginPath();
    x.ticks.forEach(t => {
      const px = x.getPixelForValue(t.value);
      ctx.moveTo(px, a.bottom); ctx.lineTo(px, a.bottom - L);
      ctx.moveTo(px, a.top); ctx.lineTo(px, a.top + L);
    });
    y.ticks.forEach(t => {
      const py = y.getPixelForValue(t.value);
      ctx.moveTo(a.left, py); ctx.lineTo(a.left + L, py);
      ctx.moveTo(a.right, py); ctx.lineTo(a.right - L, py);
      if (opts && opts.outer) { ctx.moveTo(a.right + 10, py); ctx.lineTo(a.right + 14, py); }
    });
    ctx.stroke();
    ctx.restore();
  }
};
Chart.register(frameTicks);

function makeOptions(c) {
  return {
    responsive: false, maintainAspectRatio: false, animation: false,
    layout: {padding: {left: 0, top: c.top, right: c.W - c.right, bottom: 0}},
    plugins: {legend: {display: false}, tooltip: {enabled: false}, frameTicks: {outer: !!c.outer}},
    elements: {point: {radius: 0}},
    scales: {
      x: {
        type: 'linear', min: 0, max: 6,
        grid: {display: false, drawTicks: false}, border: {display: false},
        afterBuildTicks: s => { s.ticks = xTicks.map(v => ({value: v})); },
        afterFit: s => { s.height = c.H - c.bottom; },
        ticks: {display: !!c.xLabels, padding: 9, font: {size: 32}, color: '#000', maxRotation: 0, autoSkip: false,
                callback: (v, i) => xTickLabels[i]},
        title: c.xTitle ? {display: true, text: c.xTitle, font: {size: 33, lineHeight: 0.64}, color: '#000', padding: {top: 0, bottom: 1}} : {display: false}
      },
      y: {
        type: 'linear', min: c.ymin, max: c.ymax,
        grid: {display: false, drawTicks: false}, border: {display: false},
        afterBuildTicks: s => { s.ticks = c.yTicks.map(v => ({value: v})); },
        afterFit: s => { s.width = c.left; },
        ticks: {padding: 14, font: {size: 32}, color: '#000', autoSkip: false, callback: (v, i) => c.yLabels[i]},
        title: {display: true, text: c.yTitle, font: {size: 33, lineHeight: 1}, color: '#000', padding: {top: c.titleX - 16.5, bottom: 0}}
      }
    }
  };
}

function contourSets(list, colors, widths, tension) {
  return list.slice().reverse().map(([pts, lvl, open]) => {
    const d = pts.map(p => ({x: p[0], y: p[1]}));
    if (!open) d.push({x: pts[0][0], y: pts[0][1]});
    return {data: d, showLine: true, borderColor: colors[lvl], borderWidth: widths[lvl],
            pointRadius: 0, tension: tension, fill: false, borderJoinStyle: 'round', borderCapStyle: 'round'};
  });
}
function pairs(arr) { return arr.map(p => ({x: p[0], y: p[1]})); }

new Chart(document.getElementById('cA'), {
  type: 'scatter',
  data: {datasets: contourSets(lesList, lesColors, lesWidths, 0.3)},
  options: makeOptions({W: 1450, H: 392, left: 222, right: 1425.5, top: 44, bottom: 343.5, outer: true,
    ymin: 0, ymax: 2.2, yTicks: heightTicks, yLabels: heightTickLabels, yTitle: 'Height (km)', titleX: 155})
});

new Chart(document.getElementById('cB'), {
  type: 'scatter',
  data: {datasets: contourSets(edList, edColors, edWidths, 0.2)},
  options: makeOptions({W: 1450, H: 381, left: 222, right: 1425.5, top: 33.5, bottom: 332.7, outer: true,
    ymin: 0, ymax: 2.2, yTicks: heightTicks, yLabels: heightTickLabels, yTitle: 'Height (km)', titleX: 155})
});

new Chart(document.getElementById('cD'), {
  type: 'scatter',
  data: {datasets: [
    {data: pairs(lwpBlack), showLine: true, borderColor: '#000000', borderWidth: 4, pointRadius: 0, cubicInterpolationMode: 'monotone'},
    {data: pairs(lwpBlue), showLine: true, borderColor: '#1b7fcd', borderWidth: 3.6, pointRadius: 0, cubicInterpolationMode: 'monotone'},
    {data: pairs(lwpOrange), showLine: true, borderColor: '#dc7a52', borderWidth: 3.2, pointRadius: 0, tension: 0}
  ]},
  options: makeOptions({W: 1450, H: 400, left: 216.6, right: 1419, top: 53, bottom: 352.3,
    ymin: 0, ymax: 0.016, yTicks: lwpTicks, yLabels: lwpTickLabels, yTitle: 'LWP (kg m\u207B\u00B2)', titleX: 73})
});

new Chart(document.getElementById('cE'), {
  type: 'scatter',
  data: {datasets: [
    {data: fluxTime.map((t, i) => ({x: t, y: lhf[i]})), showLine: true, borderColor: '#006400', borderWidth: 3.6, pointRadius: 0, cubicInterpolationMode: 'monotone'},
    {data: fluxTime.map((t, i) => ({x: t, y: shf[i]})), showLine: true, borderColor: '#b22222', borderWidth: 5.5, pointRadius: 0, cubicInterpolationMode: 'monotone'}
  ]},
  options: makeOptions({W: 1450, H: 429, left: 216.6, right: 1419, top: 42.3, bottom: 341, xLabels: true, xTitle: 'Time (h)',
    ymin: 0, ymax: 160, yTicks: fluxTicks, yLabels: fluxTickLabels, yTitle: 'LHF, SHF (W m\u207B\u00B2)', titleX: 73})
});
</script>
</body></html>
